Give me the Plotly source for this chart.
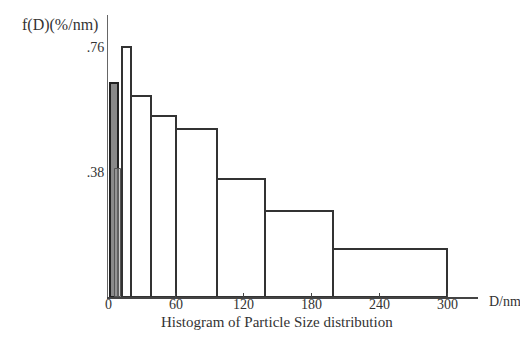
import plotly.graph_objects as go

# Histogram bins (D in nm) and heights f(D) (%/nm)
bin_left = [12.5, 20, 38, 60, 96, 139, 199]
bin_right = [20, 38, 60, 96, 139, 199, 300]
heights = [0.76, 0.61, 0.55, 0.51, 0.36, 0.26, 0.146]

dark_left = [2]
dark_right = [9]
dark_height = [0.65]

thin_left = [6.5]
thin_right = [11.5]
thin_height = [0.39]

x_ticks = [0, 60, 120, 180, 240, 300]
x_tick_text = ["0", "60", "120", "180", "240", "300"]
y_ticks = [0.38, 0.76]
y_tick_text = [".38", ".76"]

def centers(l, r):
    return [(a + b) / 2 for a, b in zip(l, r)]

def widths(l, r):
    return [b - a for a, b in zip(l, r)]

fig = go.Figure()
fig.add_trace(go.Bar(x=centers(bin_left, bin_right), y=heights,
                     width=widths(bin_left, bin_right),
                     marker=dict(color="white", line=dict(color="#333", width=2))))
fig.add_trace(go.Bar(x=centers(dark_left, dark_right), y=dark_height,
                     width=widths(dark_left, dark_right),
                     marker=dict(color="#8a8a8a", line=dict(color="#222", width=2))))
fig.add_trace(go.Bar(x=centers(thin_left, thin_right), y=thin_height,
                     width=widths(thin_left, thin_right),
                     marker=dict(color="rgba(160,160,160,0.5)", line=dict(color="#555", width=1))))

font = dict(family="Liberation Serif", size=14, color="#333")
big = dict(family="Liberation Serif", size=15, color="#333")

annotations = [
    dict(text="f(D)(%/nm)", x=0, y=1, xref="paper", yref="paper",
         xanchor="right", yanchor="middle", xshift=-8, yshift=-10,
         showarrow=False, font=dict(family="Liberation Serif", size=16, color="#333")),
    dict(text="D/nm", x=1, y=0, xref="paper", yref="paper",
         xanchor="left", yanchor="middle", xshift=9, yshift=-4,
         showarrow=False, font=font),
    dict(text="Histogram of Particle Size distribution", x=0.457, y=0,
         xref="paper", yref="paper", xanchor="center", yanchor="middle",
         yshift=-25, showarrow=False, font=big),
]
for v, t in zip(x_ticks, x_tick_text):
    annotations.append(dict(text=t, x=v, y=0, xref="x", yref="paper",
                            xanchor="center", yanchor="middle", yshift=-7,
                            showarrow=False, font=font))

fig.update_layout(
    width=528, height=338,
    margin=dict(l=100, r=58, t=7, b=49),
    paper_bgcolor="white", plot_bgcolor="white",
    showlegend=False, barmode="overlay", bargap=0,
    font=font,
    xaxis=dict(range=[0, 327], tickvals=x_ticks, showticklabels=False,
               ticks="inside", ticklen=4,
               tickcolor="#444", showline=True, linecolor="#444", linewidth=1.5,
               showgrid=False, zeroline=False),
    yaxis=dict(range=[0, 0.857], tickvals=y_ticks, ticktext=y_tick_text,
               ticks="", showline=True, linecolor="#666", linewidth=1,
               showgrid=False, zeroline=False, tickfont=font),
    annotations=annotations,
)
fig.write_html("out.html")
